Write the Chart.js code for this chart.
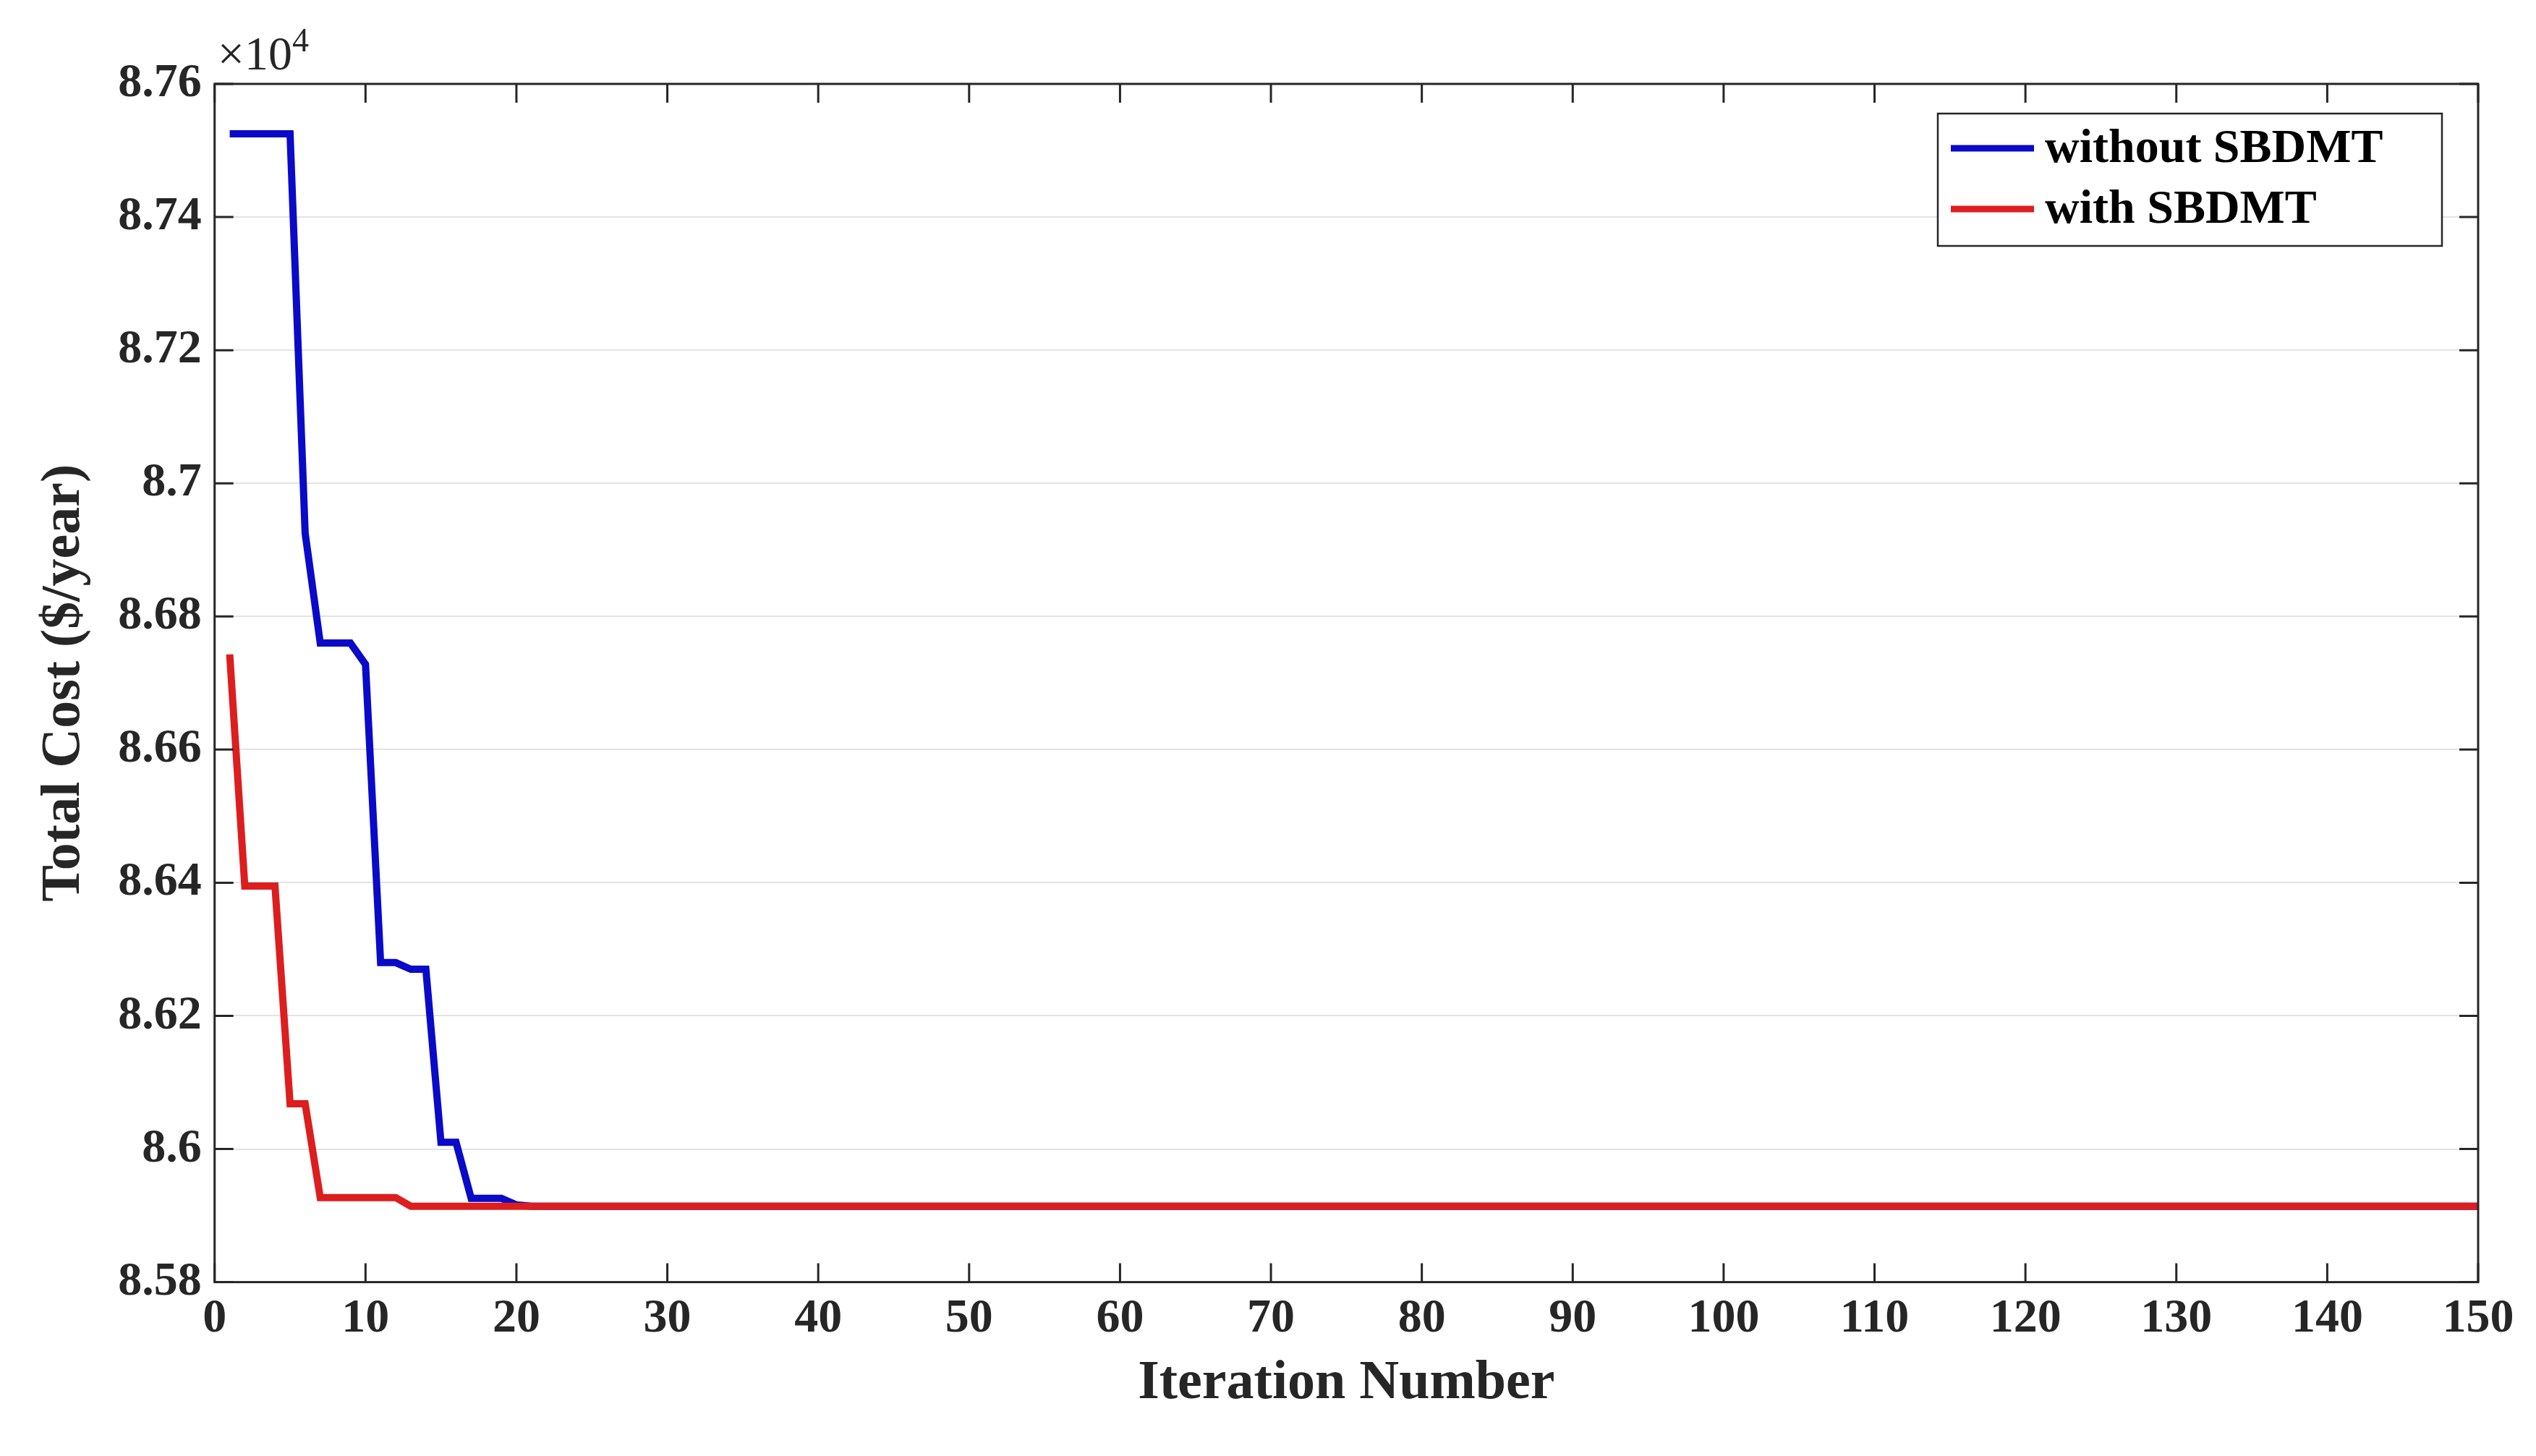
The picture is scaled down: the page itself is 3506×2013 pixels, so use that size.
<!DOCTYPE html>
<html>
<head>
<meta charset="utf-8">
<script src="https://cdn.jsdelivr.net/npm/chart.js@4/dist/chart.umd.min.js"></script>
<style>
  html, body { margin: 0; padding: 0; background: #fff; }
  #wrap { width: 3506px; height: 2013px; }
</style>
</head>
<body>
<div id="wrap"><canvas id="costChart"></canvas></div>
<script>
// Convergence of total cost (x10^4 $/year) per iteration
const headIter = [1, 2, 3, 4, 5, 6, 7, 8, 9, 10, 11, 12, 13, 14, 15, 16, 17, 18, 19, 20, 21];
const withoutHead = [8.7525, 8.7525, 8.7525, 8.7525, 8.7525, 8.6925, 8.676, 8.676, 8.676, 8.6728,
  8.628, 8.628, 8.627, 8.627, 8.601, 8.601, 8.5926, 8.5926, 8.5926, 8.5916, 8.5914];
const withHead = [8.6743, 8.6395, 8.6395, 8.6395, 8.6068, 8.6068, 8.5927, 8.5927, 8.5927, 8.5927,
  8.5927, 8.5927, 8.5914, 8.5914, 8.5914, 8.5914, 8.5914, 8.5914, 8.5914, 8.5914, 8.5914];
// both runs stay flat at the final value up to iteration 150
const tailIter = [150];
const tailValue = 8.5914;
const xTicks = [0, 10, 20, 30, 40, 50, 60, 70, 80, 90, 100, 110, 120, 130, 140, 150];
const yTicks = [8.58, 8.6, 8.62, 8.64, 8.66, 8.68, 8.7, 8.72, 8.74, 8.76];

const toPoints = (xs, ys) => xs.map((x, i) => ({ x: x, y: ys[i] }));
const withoutData = toPoints(headIter, withoutHead).concat(tailIter.map(x => ({ x: x, y: tailValue })));
const withData = toPoints(headIter, withHead).concat(tailIter.map(x => ({ x: x, y: tailValue })));

const FONT = '"Liberation Serif", "Times New Roman", serif';

const matlabFrame = {
  id: 'matlabFrame',
  afterDraw(chart) {
    const { ctx, chartArea: a, scales } = chart;
    ctx.save();
    ctx.strokeStyle = '#262626';
    ctx.lineWidth = 3;
    ctx.strokeRect(a.left, a.top, a.right - a.left, a.bottom - a.top);
    const t = 26;
    ctx.beginPath();
    xTicks.forEach(v => {
      const px = scales.x.getPixelForValue(v);
      ctx.moveTo(px, a.bottom); ctx.lineTo(px, a.bottom - t);
      ctx.moveTo(px, a.top); ctx.lineTo(px, a.top + t);
    });
    yTicks.forEach(v => {
      const py = scales.y.getPixelForValue(v);
      ctx.moveTo(a.left, py); ctx.lineTo(a.left + t, py);
      ctx.moveTo(a.right, py); ctx.lineTo(a.right - t, py);
    });
    ctx.stroke();

    // exponent label
    ctx.fillStyle = '#262626';
    ctx.font = '66px ' + FONT;
    ctx.textBaseline = 'bottom';
    ctx.fillText('\u00d710', a.left + 4, a.top - 4);
    const w = ctx.measureText('\u00d710').width;
    ctx.font = '46px ' + FONT;
    ctx.fillText('4', a.left + 4 + w, a.top - 34);

    // legend box
    const bx = 2679, by = 157, bw = 697, bh = 183;
    ctx.fillStyle = '#fff';
    ctx.fillRect(bx, by, bw, bh);
    ctx.lineWidth = 2.5;
    ctx.strokeRect(bx, by, bw, bh);
    ctx.font = 'bold 66px ' + FONT;
    ctx.textBaseline = 'middle';
    chart.data.datasets.forEach((ds, i) => {
      const ly = by + 48 + i * 84;
      ctx.strokeStyle = ds.borderColor;
      ctx.lineWidth = 9;
      ctx.beginPath();
      ctx.moveTo(bx + 18, ly); ctx.lineTo(bx + 133, ly);
      ctx.stroke();
      ctx.fillStyle = '#000';
      ctx.fillText(ds.label, bx + 148, ly + 2);
    });
    ctx.restore();
  }
};

const costCtx = document.getElementById('costChart').getContext('2d');
const costChart = new Chart(costCtx, {
  type: 'scatter',
  data: {
    datasets: [{
      label: 'without SBDMT',
      data: withoutData,
      showLine: true,
      borderColor: '#0a0ac8',
      borderWidth: 10,
      pointRadius: 0,
      tension: 0,
      order: 2
    }, {
      label: 'with SBDMT',
      data: withData,
      showLine: true,
      borderColor: '#dc1e1e',
      borderWidth: 10,
      pointRadius: 0,
      tension: 0,
      order: 1
    }]
  },
  options: {
    responsive: true,
    maintainAspectRatio: false,
    animation: false,
    layout: { padding: { left: 40, right: 80, top: 116, bottom: 50 } },
    plugins: { legend: { display: false }, tooltip: { enabled: false } },
    scales: {
      x: {
        type: 'linear',
        min: 0, max: 150,
        afterBuildTicks: s => { s.ticks = xTicks.map(v => ({ value: v })); },
        grid: { display: false },
        border: { display: false },
        ticks: { color: '#262626', font: { family: FONT, size: 66, weight: 'bold' }, padding: 4, maxRotation: 0 },
        title: { display: true, text: 'Iteration Number', color: '#262626', font: { family: FONT, size: 76, weight: 'bold' }, padding: { top: 0 } }
      },
      y: {
        min: 8.58, max: 8.76,
        afterBuildTicks: s => { s.ticks = yTicks.map(v => ({ value: v })); },
        grid: { color: '#e3e3e3', lineWidth: 2, drawTicks: false },
        border: { display: false },
        ticks: {
          color: '#262626', font: { family: FONT, size: 66, weight: 'bold' }, padding: 18,
          callback: v => String(parseFloat(v.toFixed(2)))
        },
        title: { display: true, text: 'Total Cost ($/year)', color: '#262626', font: { family: FONT, size: 76, weight: 'bold' }, padding: { bottom: 10 } }
      }
    }
  },
  plugins: [matlabFrame]
});
</script>
</body>
</html>
